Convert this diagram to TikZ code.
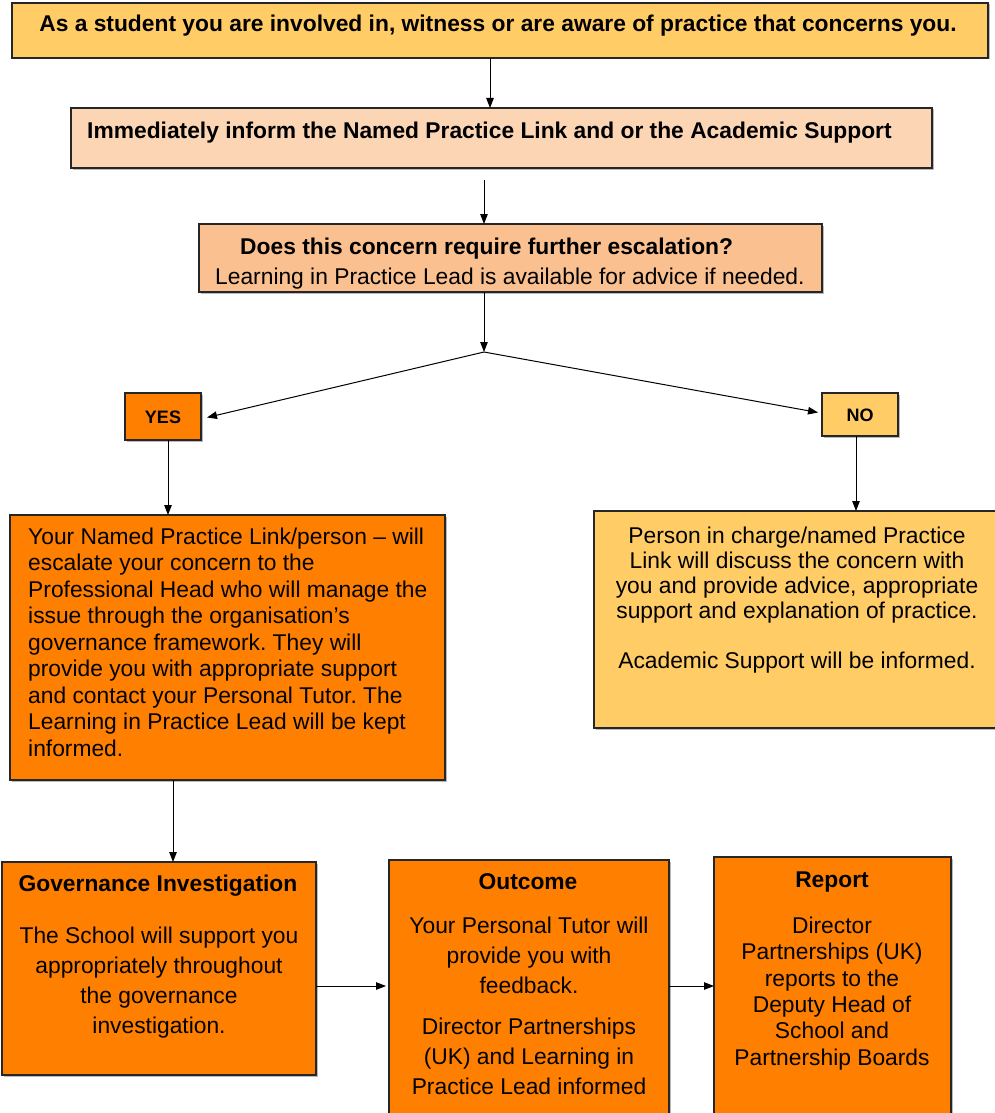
\documentclass[tikz,border=0pt]{standalone}
\usepackage{fontspec}
\setmainfont{Liberation Sans}
\usetikzlibrary{arrows.meta,calc,shadows}
\definecolor{paleorange}{HTML}{FFCC66}
\definecolor{peach}{HTML}{FCD5B5}
\definecolor{apricot}{HTML}{FAC090}
\definecolor{deeporange}{HTML}{FF8000}
\frenchspacing

\begin{document}
\begin{tikzpicture}[x=1pt,y=-1pt,
  box/.style={draw=black!85, line width=1.3pt, anchor=north west, inner sep=0pt, outer sep=0pt,
    drop shadow={shadow xshift=1.5pt,shadow yshift=-1.5pt,fill=black!45,opacity=0.6}},
  arr/.style={draw=black, line width=1pt, -{Triangle[length=10pt,width=7.5pt]}},
  body/.style={font=\fontsize{22.8}{26.5}\selectfont, inner sep=0pt},
  tbody/.style={font=\fontsize{22.8}{30}\selectfont, inner sep=0pt, align=center, anchor=north},
  head/.style={font=\fontsize{22.8}{26}\selectfont\bfseries, inner sep=0pt},
  tag/.style={font=\fontsize{18}{20}\selectfont\bfseries, inner sep=0pt, anchor=base}]
\useasboundingbox (0,0) rectangle (994,1113);

% boxes
\node[box, fill=paleorange, minimum width=976pt, minimum height=55pt] (top) at (12,3) {};
\node[box, fill=peach, minimum width=861pt, minimum height=60pt] (inform) at (71,108) {};
\node[box, fill=apricot, minimum width=623pt, minimum height=68pt] (ask) at (199,224) {};
\node[box, fill=deeporange, minimum width=76pt, minimum height=47pt] (yes) at (125,393) {};
\node[box, fill=paleorange, minimum width=76pt, minimum height=43pt] (no) at (822,393) {};
\node[box, fill=deeporange, minimum width=435pt, minimum height=265pt] (left) at (10,515) {};
\node[box, fill=paleorange, minimum width=410pt, minimum height=217pt] (right) at (594,511) {};
\node[box, fill=deeporange, minimum width=314pt, minimum height=213pt] (gov) at (2,862) {};
\node[box, fill=deeporange, minimum width=280pt, minimum height=270pt] (outcome) at (389,860) {};
\node[box, fill=deeporange, minimum width=237pt, minimum height=270pt] (report) at (714,857) {};

% texts
\node[head, anchor=base] (ttop) at (498,32) {As a student you are involved in, witness or are aware of practice that concerns you.};
\node[head, anchor=base west] (tinform) at (87,139) {Immediately inform the Named Practice Link and or the Academic Support};
\node[head, anchor=base west] (task) at (240,254) {Does this concern require further escalation?};
\node[body, anchor=base west] (task2) at (215,284) {Learning in Practice Lead is available for advice if needed.};
\node[tag] (tyes) at (yes.center |- 0,423) {YES};
\node[tag] (tno) at (no.center |- 0,421) {NO};
\node[body, align=left, anchor=north west] (tleft) at (28,527.5) {Your Named Practice Link/person -- will\\
escalate your concern to the\\
Professional Head who will manage the\\
issue through the organisation’s\\
governance framework. They will\\
provide you with appropriate support\\
and contact your Personal Tutor. The\\
Learning in Practice Lead will be kept\\
informed.};
\node[body, font=\fontsize{22.8}{25}\selectfont, align=center, anchor=north] (tright) at (797,526.5) {Person in charge/named Practice\\
Link will discuss the concern with\\
you and provide advice, appropriate\\
support and explanation of practice.\\[25pt]
Academic Support will be informed.};
\node[head, anchor=base] (tgov) at (158,891) {Governance Investigation};
\node[tbody] (tgov2) at (159,926.5) {The School will support you\\ appropriately throughout\\ the governance\\ investigation.};
\node[head, anchor=base] (tout) at (528,889) {Outcome};
\node[tbody] (tout2) at (529,916.5) {Your Personal Tutor will\\ provide you with\\ feedback.};
\node[tbody] (tout3) at (529,1017.5) {Director Partnerships\\ (UK) and Learning in\\ Practice Lead informed};
\node[head, anchor=base] (trep) at (832,887) {Report};
\node[tbody, font=\fontsize{22.8}{26.4}\selectfont] (trep2) at (832,916.5) {Director\\ Partnerships (UK)\\ reports to the\\ Deputy Head of\\ School and\\ Partnership Boards};

% connectors
\draw[arr] ([xshift=-10pt]top.south) -- ([xshift=-10pt]top.south |- inform.north);
\draw[arr] ([xshift=-17.5pt,yshift=-12pt]inform.south) -- ([xshift=-17.5pt]inform.south |- ask.north);
\coordinate (split) at (484,352);
\draw[arr] ([xshift=-26.5pt]ask.south) -- (split);
\draw[arr] (split) -- ([xshift=6pt,yshift=-1pt]yes.east);
\draw[arr] (split) -- ([xshift=-4pt,yshift=2pt]no.west);
\draw[arr] ([xshift=5pt]yes.south) -- ([xshift=5pt]yes.south |- left.north);
\draw[arr] ([xshift=-4pt]no.south) -- ([xshift=-4pt]no.south |- right.north);
\draw[arr] ([xshift=-54.5pt]left.south) -- ([xshift=-54.5pt]left.south |- gov.north);
\coordinate (mid) at ([yshift=-17.5pt]gov.east);
\draw[arr] (mid) -- ([xshift=-3pt]mid -| outcome.west);
\draw[arr] (mid -| outcome.east) -- (mid -| report.west);
\end{tikzpicture}
\end{document}
